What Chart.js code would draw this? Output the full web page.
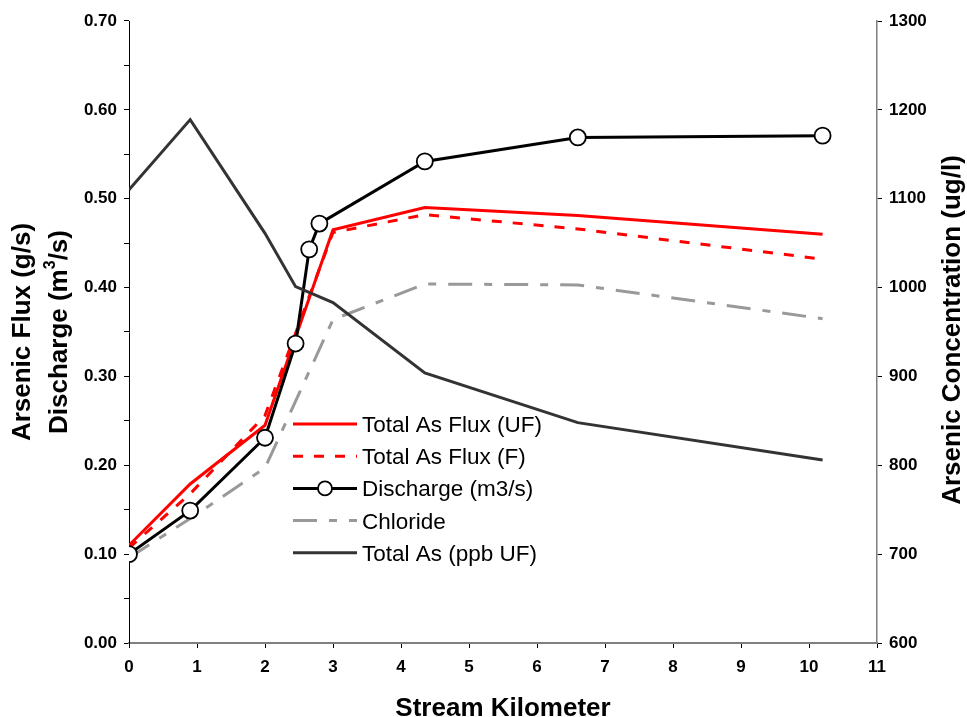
<!DOCTYPE html>
<html>
<head>
<meta charset="utf-8">
<script src="https://cdn.jsdelivr.net/npm/chart.js@4.4.1/dist/chart.umd.min.js"></script>
<style>
  html, body { margin: 0; padding: 0; background: #fff; }
  #wrap { width: 967px; height: 717px; position: relative; }
</style>
</head>
<body>
<div id="wrap"><canvas id="c" width="967" height="717"></canvas></div>
<script>
// Stream kilometre stations for each series
const kmFlux = [0, 0.9, 2.0, 3.0, 4.35, 6.6, 10.2];
const kmDischarge = [0, 0.9, 2.0, 2.45, 2.65, 2.8, 4.35, 6.6, 10.2];
const kmChloride = [0, 0.9, 2.0, 3.0, 4.35, 6.6, 10.2];
const kmArsenic = [0, 0.9, 2.0, 2.45, 3.0, 4.35, 6.6, 10.2];

// Left axis: arsenic flux (g/s) and discharge (m3/s)
const fluxUF = [0.110, 0.179, 0.245, 0.465, 0.490, 0.481, 0.460];
const fluxF = [0.107, 0.168, 0.256, 0.462, 0.482, 0.466, 0.432];
const discharge = [0.100, 0.149, 0.231, 0.337, 0.443, 0.472, 0.542, 0.569, 0.571];
const chloride = [0.096, 0.140, 0.197, 0.364, 0.404, 0.403, 0.365];

// Right axis: total arsenic concentration (ug/l)
const arsenicPpb = [1110, 1189, 1061, 1001, 983, 904, 848, 806];

// Tick labels
const xTicks = [0, 1, 2, 3, 4, 5, 6, 7, 8, 9, 10, 11];
const leftTicks = ['0.00', '0.10', '0.20', '0.30', '0.40', '0.50', '0.60', '0.70'];
const rightTicks = ['600', '700', '800', '900', '1000', '1100', '1200', '1300'];

const seriesNames = ['Total As Flux (UF)', 'Total As Flux (F)', 'Discharge (m3/s)', 'Chloride', 'Total As (ppb UF)'];

const FONT = "'Liberation Sans', Arial, Helvetica, sans-serif";

function pts(xs, ys) { return xs.map((x, i) => ({ x: x, y: ys[i] })); }

const datasets = [
  { label: seriesNames[0], data: pts(kmFlux, fluxUF), yAxisID: 'y',
    borderColor: '#ff0000', borderWidth: 3, pointRadius: 0, order: 2 },
  { label: seriesNames[1], data: pts(kmFlux, fluxF), yAxisID: 'y',
    borderColor: '#ff0000', borderWidth: 3, borderDash: [10, 11], pointRadius: 0, order: 3 },
  { label: seriesNames[2], data: pts(kmDischarge, discharge), yAxisID: 'y',
    borderColor: '#000000', borderWidth: 3, pointRadius: 8, pointBorderWidth: 1.8,
    pointBackgroundColor: '#ffffff', pointBorderColor: '#000000', order: 1 },
  { label: seriesNames[3], data: pts(kmChloride, chloride), yAxisID: 'y',
    borderColor: '#999999', borderWidth: 3, borderDash: [24, 12, 8, 12], pointRadius: 0, order: 4 },
  { label: seriesNames[4], data: pts(kmArsenic, arsenicPpb), yAxisID: 'y1',
    borderColor: '#333333', borderWidth: 3, pointRadius: 0, order: 0 }
];

// Legend drawn inside the plot area
const insideLegend = {
  id: 'insideLegend',
  afterDraw(chart) {
    const ctx = chart.ctx;
    const x0 = 293, x1 = 357, textX = 362, y0 = 424, step = 32.2;
    ctx.save();
    datasets.forEach((ds, i) => {
      const y = y0 + i * step;
      ctx.beginPath();
      ctx.strokeStyle = ds.borderColor;
      ctx.lineWidth = ds.borderWidth;
      ctx.setLineDash(ds.borderDash || []);
      ctx.moveTo(x0, y);
      ctx.lineTo(x1, y);
      ctx.stroke();
      ctx.setLineDash([]);
      if (ds.pointRadius > 0) {
        ctx.beginPath();
        ctx.arc((x0 + x1) / 2, y, 7, 0, Math.PI * 2);
        ctx.fillStyle = '#ffffff';
        ctx.fill();
        ctx.lineWidth = 1.8;
        ctx.strokeStyle = '#000000';
        ctx.stroke();
      }
      ctx.fillStyle = '#000000';
      ctx.font = '22.5px ' + FONT;
      ctx.textAlign = 'left';
      ctx.textBaseline = 'alphabetic';
      ctx.fillText(ds.label, textX, y + 8);
    });
    ctx.restore();
  }
};

// Axis titles
const axisTitles = {
  id: 'axisTitles',
  afterDraw(chart) {
    const ctx = chart.ctx;
    const area = chart.chartArea;
    const midY = (area.top + area.bottom) / 2;
    ctx.save();
    ctx.fillStyle = '#000000';
    ctx.textBaseline = 'alphabetic';
    const big = 'bold 26px ' + FONT;
    const small = 'bold 16px ' + FONT;

    // left, first line
    ctx.save();
    ctx.translate(30, midY);
    ctx.rotate(-Math.PI / 2);
    ctx.font = big;
    ctx.textAlign = 'center';
    ctx.fillText('Arsenic Flux (g/s)', 0, 0);
    ctx.restore();

    // left, second line with superscript
    ctx.save();
    ctx.translate(67, midY);
    ctx.rotate(-Math.PI / 2);
    const parts = [['Discharge (m', big, 0], ['3', small, -12], ['/s)', big, 0]];
    let total = 0;
    parts.forEach(p => { ctx.font = p[1]; total += ctx.measureText(p[0]).width; });
    let cx = -total / 2;
    ctx.textAlign = 'left';
    parts.forEach(p => {
      ctx.font = p[1];
      ctx.fillText(p[0], cx, p[2]);
      cx += ctx.measureText(p[0]).width;
    });
    ctx.restore();

    // right
    ctx.save();
    ctx.translate(960, midY - 2);
    ctx.rotate(-Math.PI / 2);
    ctx.font = big;
    ctx.textAlign = 'center';
    ctx.fillText('Arsenic Concentration (ug/l)', 0, 0);
    ctx.restore();

    // bottom
    ctx.font = big;
    ctx.textAlign = 'center';
    ctx.fillText('Stream Kilometer', (area.left + area.right) / 2, 716);
    ctx.restore();
  }
};

const tickFont = { family: FONT, size: 17, weight: 'bold' };

new Chart(document.getElementById('c'), {
  type: 'line',
  data: { datasets: datasets },
  options: {
    responsive: false,
    animation: false,
    events: [],
    layout: { padding: { top: 21, left: 0, right: 0, bottom: 0 } },
    elements: { line: { tension: 0, fill: false } },
    plugins: { legend: { display: false }, tooltip: { enabled: false } },
    scales: {
      x: {
        type: 'linear', min: 0, max: 11,
        afterBuildTicks(s) { s.ticks = xTicks.map(v => ({ value: v })); },
        ticks: { font: tickFont, color: '#000', padding: 9, maxRotation: 0,
                 callback: (v) => String(v) },
        grid: { drawOnChartArea: false, drawTicks: true, tickLength: 5, tickColor: '#000', tickWidth: 1 },
        border: { color: '#808080', width: 2 },
        afterFit(s) { s.height = 74; }
      },
      y: {
        type: 'linear', position: 'left', min: 0, max: 0.7,
        afterBuildTicks(s) {
          const t = [];
          for (let i = 0; i <= 14; i++) t.push({ value: i * 0.05 });
          s.ticks = t;
        },
        ticks: { font: tickFont, color: '#000', padding: 7,
                 callback: (v, i) => (i % 2 === 0 ? leftTicks[i / 2] : '') },
        grid: { drawOnChartArea: false, drawTicks: true, tickLength: 5, tickColor: '#000', tickWidth: 1 },
        border: { color: '#000', width: 1 },
        afterFit(s) { s.width = 129; }
      },
      y1: {
        type: 'linear', position: 'right', min: 600, max: 1300,
        afterBuildTicks(s) { s.ticks = rightTicks.map(v => ({ value: Number(v) })); },
        ticks: { font: tickFont, color: '#000', padding: 7,
                 callback: (v, i) => rightTicks[i] },
        grid: { drawOnChartArea: false, drawTicks: true, tickLength: 5, tickColor: '#000', tickWidth: 1 },
        border: { color: '#808080', width: 1.5 },
        afterFit(s) { s.width = 90; }
      }
    }
  },
  plugins: [insideLegend, axisTitles]
});
</script>
</body>
</html>
